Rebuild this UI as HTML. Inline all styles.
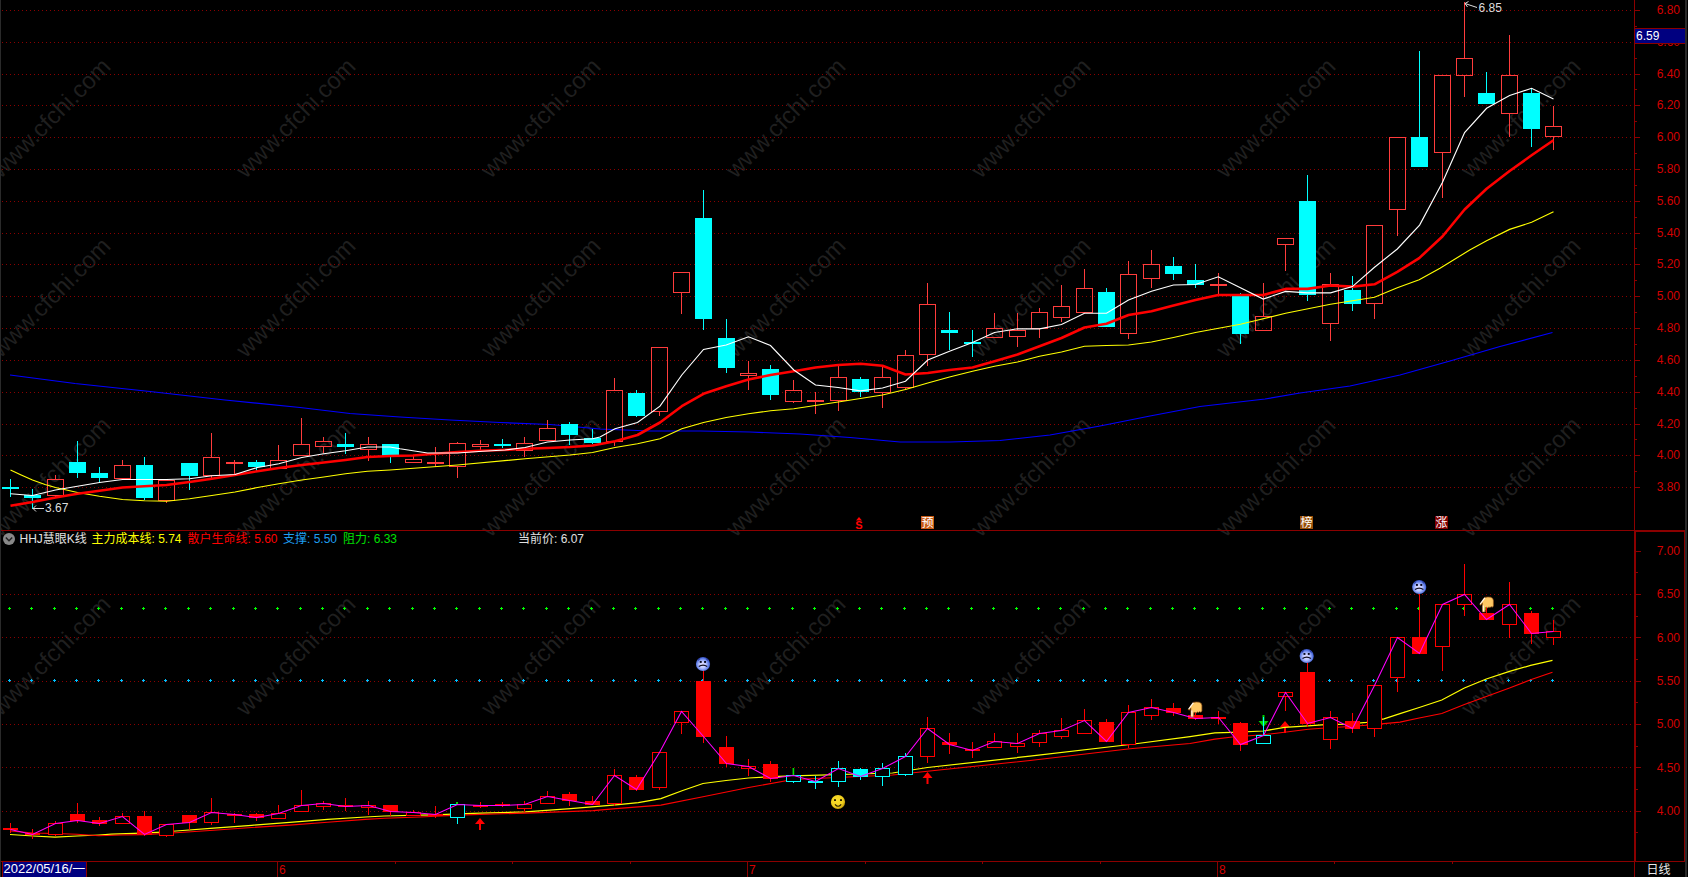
<!DOCTYPE html><html><head><meta charset="utf-8"><title>HHJ慧眼K线</title>
<style>html,body{margin:0;padding:0;background:#000;overflow:hidden}svg{display:block}text{font-family:"Liberation Sans","Noto Sans CJK SC",sans-serif;font-size:12px}</style></head><body>
<svg width="1688" height="877" viewBox="0 0 1688 877">
<rect width="1688" height="877" fill="#000"/>
<defs><radialGradient id="gs" cx="0.47" cy="0.55" r="0.55"><stop offset="0" stop-color="#f0e8ff"/><stop offset="0.45" stop-color="#b4c0ff"/><stop offset="0.85" stop-color="#5070e0"/><stop offset="1" stop-color="#3048b8"/></radialGradient><radialGradient id="gy" cx="0.42" cy="0.4" r="0.6"><stop offset="0" stop-color="#f8de2c"/><stop offset="0.7" stop-color="#f0d020"/><stop offset="1" stop-color="#c8a008"/></radialGradient></defs>
<g fill="#1f1f1f" text-anchor="middle">
<g><text style="font-size:23.8px" transform="translate(50.80000000000001,118) rotate(-45)" y="8">www.cfchi.com</text></g>
<g><text style="font-size:23.8px" transform="translate(295.8,118) rotate(-45)" y="8">www.cfchi.com</text></g>
<g><text style="font-size:23.8px" transform="translate(540.8,118) rotate(-45)" y="8">www.cfchi.com</text></g>
<g><text style="font-size:23.8px" transform="translate(785.8,118) rotate(-45)" y="8">www.cfchi.com</text></g>
<g><text style="font-size:23.8px" transform="translate(1030.8,118) rotate(-45)" y="8">www.cfchi.com</text></g>
<g><text style="font-size:23.8px" transform="translate(1275.8,118) rotate(-45)" y="8">www.cfchi.com</text></g>
<g><text style="font-size:23.8px" transform="translate(1520.8,118) rotate(-45)" y="8">www.cfchi.com</text></g>
<g><text style="font-size:23.8px" transform="translate(1765.8,118) rotate(-45)" y="8">www.cfchi.com</text></g>
<g><text style="font-size:23.8px" transform="translate(50.80000000000001,297.5) rotate(-45)" y="8">www.cfchi.com</text></g>
<g><text style="font-size:23.8px" transform="translate(295.8,297.5) rotate(-45)" y="8">www.cfchi.com</text></g>
<g><text style="font-size:23.8px" transform="translate(540.8,297.5) rotate(-45)" y="8">www.cfchi.com</text></g>
<g><text style="font-size:23.8px" transform="translate(785.8,297.5) rotate(-45)" y="8">www.cfchi.com</text></g>
<g><text style="font-size:23.8px" transform="translate(1030.8,297.5) rotate(-45)" y="8">www.cfchi.com</text></g>
<g><text style="font-size:23.8px" transform="translate(1275.8,297.5) rotate(-45)" y="8">www.cfchi.com</text></g>
<g><text style="font-size:23.8px" transform="translate(1520.8,297.5) rotate(-45)" y="8">www.cfchi.com</text></g>
<g><text style="font-size:23.8px" transform="translate(1765.8,297.5) rotate(-45)" y="8">www.cfchi.com</text></g>
<g><text style="font-size:23.8px" transform="translate(50.80000000000001,476.8) rotate(-45)" y="8">www.cfchi.com</text></g>
<g><text style="font-size:23.8px" transform="translate(295.8,476.8) rotate(-45)" y="8">www.cfchi.com</text></g>
<g><text style="font-size:23.8px" transform="translate(540.8,476.8) rotate(-45)" y="8">www.cfchi.com</text></g>
<g><text style="font-size:23.8px" transform="translate(785.8,476.8) rotate(-45)" y="8">www.cfchi.com</text></g>
<g><text style="font-size:23.8px" transform="translate(1030.8,476.8) rotate(-45)" y="8">www.cfchi.com</text></g>
<g><text style="font-size:23.8px" transform="translate(1275.8,476.8) rotate(-45)" y="8">www.cfchi.com</text></g>
<g><text style="font-size:23.8px" transform="translate(1520.8,476.8) rotate(-45)" y="8">www.cfchi.com</text></g>
<g><text style="font-size:23.8px" transform="translate(1765.8,476.8) rotate(-45)" y="8">www.cfchi.com</text></g>
<g><text style="font-size:23.8px" transform="translate(50.80000000000001,655.8) rotate(-45)" y="8">www.cfchi.com</text></g>
<g><text style="font-size:23.8px" transform="translate(295.8,655.8) rotate(-45)" y="8">www.cfchi.com</text></g>
<g><text style="font-size:23.8px" transform="translate(540.8,655.8) rotate(-45)" y="8">www.cfchi.com</text></g>
<g><text style="font-size:23.8px" transform="translate(785.8,655.8) rotate(-45)" y="8">www.cfchi.com</text></g>
<g><text style="font-size:23.8px" transform="translate(1030.8,655.8) rotate(-45)" y="8">www.cfchi.com</text></g>
<g><text style="font-size:23.8px" transform="translate(1275.8,655.8) rotate(-45)" y="8">www.cfchi.com</text></g>
<g><text style="font-size:23.8px" transform="translate(1520.8,655.8) rotate(-45)" y="8">www.cfchi.com</text></g>
<g><text style="font-size:23.8px" transform="translate(1765.8,655.8) rotate(-45)" y="8">www.cfchi.com</text></g>
</g>
<g stroke="#8b0000" stroke-width="1" stroke-dasharray="1 3" shape-rendering="crispEdges">
<line x1="2" x2="1632" y1="10.5" y2="10.5"/>
<line x1="2" x2="1632" y1="42.5" y2="42.5"/>
<line x1="2" x2="1632" y1="74.5" y2="74.5"/>
<line x1="2" x2="1632" y1="105.5" y2="105.5"/>
<line x1="2" x2="1632" y1="137.5" y2="137.5"/>
<line x1="2" x2="1632" y1="169.5" y2="169.5"/>
<line x1="2" x2="1632" y1="201.5" y2="201.5"/>
<line x1="2" x2="1632" y1="233.5" y2="233.5"/>
<line x1="2" x2="1632" y1="264.5" y2="264.5"/>
<line x1="2" x2="1632" y1="296.5" y2="296.5"/>
<line x1="2" x2="1632" y1="328.5" y2="328.5"/>
<line x1="2" x2="1632" y1="360.5" y2="360.5"/>
<line x1="2" x2="1632" y1="392.5" y2="392.5"/>
<line x1="2" x2="1632" y1="424.5" y2="424.5"/>
<line x1="2" x2="1632" y1="455.5" y2="455.5"/>
<line x1="2" x2="1632" y1="487.5" y2="487.5"/>
<line x1="2" x2="1632" y1="594.5" y2="594.5"/>
<line x1="2" x2="1632" y1="637.5" y2="637.5"/>
<line x1="2" x2="1632" y1="681.5" y2="681.5"/>
<line x1="2" x2="1632" y1="724.5" y2="724.5"/>
<line x1="2" x2="1632" y1="767.5" y2="767.5"/>
<line x1="2" x2="1632" y1="811.5" y2="811.5"/>
</g>
<g stroke="#8b0000" shape-rendering="crispEdges">
<line x1="1" x2="1685" y1="530.5" y2="530.5"/>
<line x1="1634" x2="1685" y1="531.5" y2="531.5"/>
<line x1="1634.5" x2="1634.5" y1="0" y2="530"/>
<line x1="1635" x2="1635" y1="531" y2="862" stroke-width="2"/>
<line x1="1634.5" x2="1634.5" y1="862" y2="877"/>
<line x1="1" x2="1685" y1="861.5" y2="861.5"/>
<line x1="1684.5" x2="1684.5" y1="531" y2="862"/>
<line x1="1635" x2="1640" y1="10.5" y2="10.5"/>
<line x1="1635" x2="1637" y1="26.5" y2="26.5"/>
<line x1="1635" x2="1640" y1="42.5" y2="42.5"/>
<line x1="1635" x2="1637" y1="58.5" y2="58.5"/>
<line x1="1635" x2="1640" y1="74.5" y2="74.5"/>
<line x1="1635" x2="1637" y1="89.5" y2="89.5"/>
<line x1="1635" x2="1640" y1="105.5" y2="105.5"/>
<line x1="1635" x2="1637" y1="121.5" y2="121.5"/>
<line x1="1635" x2="1640" y1="137.5" y2="137.5"/>
<line x1="1635" x2="1637" y1="153.5" y2="153.5"/>
<line x1="1635" x2="1640" y1="169.5" y2="169.5"/>
<line x1="1635" x2="1637" y1="185.5" y2="185.5"/>
<line x1="1635" x2="1640" y1="201.5" y2="201.5"/>
<line x1="1635" x2="1637" y1="217.5" y2="217.5"/>
<line x1="1635" x2="1640" y1="233.5" y2="233.5"/>
<line x1="1635" x2="1637" y1="248.5" y2="248.5"/>
<line x1="1635" x2="1640" y1="264.5" y2="264.5"/>
<line x1="1635" x2="1637" y1="280.5" y2="280.5"/>
<line x1="1635" x2="1640" y1="296.5" y2="296.5"/>
<line x1="1635" x2="1637" y1="312.5" y2="312.5"/>
<line x1="1635" x2="1640" y1="328.5" y2="328.5"/>
<line x1="1635" x2="1637" y1="344.5" y2="344.5"/>
<line x1="1635" x2="1640" y1="360.5" y2="360.5"/>
<line x1="1635" x2="1637" y1="376.5" y2="376.5"/>
<line x1="1635" x2="1640" y1="392.5" y2="392.5"/>
<line x1="1635" x2="1637" y1="408.5" y2="408.5"/>
<line x1="1635" x2="1640" y1="424.5" y2="424.5"/>
<line x1="1635" x2="1637" y1="439.5" y2="439.5"/>
<line x1="1635" x2="1640" y1="455.5" y2="455.5"/>
<line x1="1635" x2="1637" y1="471.5" y2="471.5"/>
<line x1="1635" x2="1640" y1="487.5" y2="487.5"/>
<line x1="1636" x2="1641" y1="551.5" y2="551.5"/>
<line x1="1636" x2="1638" y1="572.5" y2="572.5"/>
<line x1="1636" x2="1641" y1="594.5" y2="594.5"/>
<line x1="1636" x2="1638" y1="616.5" y2="616.5"/>
<line x1="1636" x2="1641" y1="637.5" y2="637.5"/>
<line x1="1636" x2="1638" y1="659.5" y2="659.5"/>
<line x1="1636" x2="1641" y1="681.5" y2="681.5"/>
<line x1="1636" x2="1638" y1="702.5" y2="702.5"/>
<line x1="1636" x2="1641" y1="724.5" y2="724.5"/>
<line x1="1636" x2="1638" y1="746.5" y2="746.5"/>
<line x1="1636" x2="1641" y1="767.5" y2="767.5"/>
<line x1="1636" x2="1638" y1="789.5" y2="789.5"/>
<line x1="1636" x2="1641" y1="811.5" y2="811.5"/>
<line x1="1636" x2="1638" y1="832.5" y2="832.5"/>
<line x1="277.5" x2="277.5" y1="862" y2="877"/>
<line x1="747.5" x2="747.5" y1="862" y2="877"/>
<line x1="1217.5" x2="1217.5" y1="862" y2="877"/>
<line x1="395.5" x2="395.5" y1="862" y2="864"/>
<line x1="512.5" x2="512.5" y1="862" y2="864"/>
<line x1="630.5" x2="630.5" y1="862" y2="864"/>
<line x1="865.5" x2="865.5" y1="862" y2="864"/>
<line x1="982.5" x2="982.5" y1="862" y2="864"/>
<line x1="1100.5" x2="1100.5" y1="862" y2="864"/>
<line x1="1334.5" x2="1334.5" y1="862" y2="864"/>
<line x1="1452.5" x2="1452.5" y1="862" y2="864"/>
</g>
<rect x="0" y="0" width="1" height="877" fill="#2a2a2a"/>
<rect x="1685" y="0" width="2" height="877" fill="#2a2a2a"/>
<g fill="#d40000" text-anchor="end">
<text x="1680" y="13.9">6.80</text>
<text x="1680" y="45.9">6.60</text>
<text x="1680" y="77.9">6.40</text>
<text x="1680" y="108.9">6.20</text>
<text x="1680" y="140.9">6.00</text>
<text x="1680" y="172.9">5.80</text>
<text x="1680" y="204.9">5.60</text>
<text x="1680" y="236.9">5.40</text>
<text x="1680" y="267.9">5.20</text>
<text x="1680" y="299.9">5.00</text>
<text x="1680" y="331.9">4.80</text>
<text x="1680" y="363.9">4.60</text>
<text x="1680" y="395.9">4.40</text>
<text x="1680" y="427.9">4.20</text>
<text x="1680" y="458.9">4.00</text>
<text x="1680" y="490.9">3.80</text>
<text x="1680" y="554.9">7.00</text>
<text x="1680" y="598.2">6.50</text>
<text x="1680" y="641.6">6.00</text>
<text x="1680" y="684.9">5.50</text>
<text x="1680" y="728.2">5.00</text>
<text x="1680" y="771.6">4.50</text>
<text x="1680" y="814.9">4.00</text>
</g>
<g fill="#d40000"><text x="279" y="874">6</text><text x="749" y="874">7</text><text x="1219" y="874">8</text></g>
<rect x="1635" y="28" width="50" height="16" fill="#000080"/><line x1="1635" x2="1685" y1="28.5" y2="28.5" stroke="#8b0000"/><line x1="1635" x2="1685" y1="43.5" y2="43.5" stroke="#8b0000"/>
<text x="1636" y="39.8" fill="#fff">6.59</text>
<rect x="3" y="862" width="83" height="15" fill="#000080"/><line x1="86.5" x2="86.5" y1="862" y2="877" stroke="#8b0000"/><line x1="2.5" x2="2.5" y1="862" y2="877" stroke="#8b0000"/>
<text x="3.6" y="873" fill="#fff" style="font-size:13px">2022/05/16/一</text>
<text x="1646.5" y="874.3" fill="#e8e8e8">日线</text>
<polyline fill="none" stroke="#0000ff" stroke-width="1.15" points="10,375 75,383.5 150,391.5 225,400 300,407.5 350,413.5 400,417 450,420 500,422.5 550,424.5 600,429 650,431 700,431 750,432 800,434 850,437.5 900,442 950,442 1000,440.5 1050,435 1100,426 1150,416 1200,406.5 1265,399 1300,393 1350,386 1400,375 1450,361 1500,346.5 1552.5,332.5"/>
<g shape-rendering="crispEdges">
<line x1="10.5" x2="10.5" y1="479" y2="497" stroke="#00ffff"/>
<rect x="2.0" y="487" width="17" height="2" fill="#00ffff"/>
<line x1="32.5" x2="32.5" y1="489" y2="509" stroke="#00ffff"/>
<rect x="24.0" y="495" width="17" height="3" fill="#00ffff"/>
<line x1="55.5" x2="55.5" y1="475" y2="479" stroke="#ff3c3c"/>
<line x1="55.5" x2="55.5" y1="496" y2="498" stroke="#ff3c3c"/>
<rect x="47.5" y="479.5" width="16" height="16" fill="none" stroke="#ff3c3c"/>
<line x1="77.5" x2="77.5" y1="441" y2="478" stroke="#00ffff"/>
<rect x="69.0" y="462" width="17" height="11" fill="#00ffff"/>
<line x1="99.5" x2="99.5" y1="467" y2="483" stroke="#00ffff"/>
<rect x="91.0" y="473" width="17" height="5" fill="#00ffff"/>
<line x1="122.5" x2="122.5" y1="460" y2="465" stroke="#ff3c3c"/>
<line x1="122.5" x2="122.5" y1="479" y2="479" stroke="#ff3c3c"/>
<rect x="114.5" y="465.5" width="16" height="13" fill="none" stroke="#ff3c3c"/>
<line x1="144.5" x2="144.5" y1="457" y2="500" stroke="#00ffff"/>
<rect x="136.0" y="465" width="17" height="33" fill="#00ffff"/>
<line x1="166.5" x2="166.5" y1="480" y2="480" stroke="#ff3c3c"/>
<line x1="166.5" x2="166.5" y1="501" y2="503" stroke="#ff3c3c"/>
<rect x="158.5" y="480.5" width="16" height="20" fill="none" stroke="#ff3c3c"/>
<line x1="189.5" x2="189.5" y1="463" y2="490" stroke="#00ffff"/>
<rect x="181.0" y="463" width="17" height="13" fill="#00ffff"/>
<line x1="211.5" x2="211.5" y1="433" y2="457" stroke="#ff3c3c"/>
<line x1="211.5" x2="211.5" y1="476" y2="480" stroke="#ff3c3c"/>
<rect x="203.5" y="457.5" width="16" height="18" fill="none" stroke="#ff3c3c"/>
<line x1="234.5" x2="234.5" y1="460" y2="476" stroke="#ff3c3c"/>
<rect x="226.0" y="462" width="17" height="2" fill="#ff3c3c"/>
<line x1="256.5" x2="256.5" y1="460" y2="472" stroke="#00ffff"/>
<rect x="248.0" y="462" width="17" height="5" fill="#00ffff"/>
<line x1="278.5" x2="278.5" y1="445" y2="460" stroke="#ff3c3c"/>
<line x1="278.5" x2="278.5" y1="469" y2="469" stroke="#ff3c3c"/>
<rect x="270.5" y="460.5" width="16" height="8" fill="none" stroke="#ff3c3c"/>
<line x1="301.5" x2="301.5" y1="418" y2="444" stroke="#ff3c3c"/>
<line x1="301.5" x2="301.5" y1="456" y2="456" stroke="#ff3c3c"/>
<rect x="293.5" y="444.5" width="16" height="11" fill="none" stroke="#ff3c3c"/>
<line x1="323.5" x2="323.5" y1="437" y2="441" stroke="#ff3c3c"/>
<line x1="323.5" x2="323.5" y1="447" y2="453" stroke="#ff3c3c"/>
<rect x="315.5" y="441.5" width="16" height="5" fill="none" stroke="#ff3c3c"/>
<line x1="345.5" x2="345.5" y1="433" y2="454" stroke="#00ffff"/>
<rect x="337.0" y="444" width="17" height="3" fill="#00ffff"/>
<line x1="368.5" x2="368.5" y1="437" y2="444" stroke="#ff3c3c"/>
<line x1="368.5" x2="368.5" y1="450" y2="461" stroke="#ff3c3c"/>
<rect x="360.5" y="444.5" width="16" height="5" fill="none" stroke="#ff3c3c"/>
<line x1="390.5" x2="390.5" y1="444" y2="463" stroke="#00ffff"/>
<rect x="382.0" y="444" width="17" height="12" fill="#00ffff"/>
<line x1="413.5" x2="413.5" y1="455" y2="459" stroke="#ff3c3c"/>
<line x1="413.5" x2="413.5" y1="463" y2="463" stroke="#ff3c3c"/>
<rect x="405.5" y="459.5" width="16" height="3" fill="none" stroke="#ff3c3c"/>
<line x1="435.5" x2="435.5" y1="447" y2="467" stroke="#ff3c3c"/>
<rect x="427.0" y="462" width="17" height="2" fill="#ff3c3c"/>
<line x1="457.5" x2="457.5" y1="442" y2="443" stroke="#ff3c3c"/>
<line x1="457.5" x2="457.5" y1="467" y2="478" stroke="#ff3c3c"/>
<rect x="449.5" y="443.5" width="16" height="23" fill="none" stroke="#ff3c3c"/>
<line x1="480.5" x2="480.5" y1="440" y2="444" stroke="#ff3c3c"/>
<line x1="480.5" x2="480.5" y1="447" y2="450" stroke="#ff3c3c"/>
<rect x="472.5" y="444.5" width="16" height="2" fill="none" stroke="#ff3c3c"/>
<line x1="502.5" x2="502.5" y1="439" y2="448" stroke="#00ffff"/>
<rect x="494.0" y="444" width="17" height="2" fill="#00ffff"/>
<line x1="524.5" x2="524.5" y1="437" y2="443" stroke="#ff3c3c"/>
<line x1="524.5" x2="524.5" y1="451" y2="457" stroke="#ff3c3c"/>
<rect x="516.5" y="443.5" width="16" height="7" fill="none" stroke="#ff3c3c"/>
<line x1="547.5" x2="547.5" y1="420" y2="428" stroke="#ff3c3c"/>
<line x1="547.5" x2="547.5" y1="441" y2="441" stroke="#ff3c3c"/>
<rect x="539.5" y="428.5" width="16" height="12" fill="none" stroke="#ff3c3c"/>
<line x1="569.5" x2="569.5" y1="422" y2="445" stroke="#00ffff"/>
<rect x="561.0" y="424" width="17" height="11" fill="#00ffff"/>
<line x1="592.5" x2="592.5" y1="429" y2="444" stroke="#00ffff"/>
<rect x="584.0" y="438" width="17" height="5" fill="#00ffff"/>
<line x1="614.5" x2="614.5" y1="378" y2="390" stroke="#ff3c3c"/>
<line x1="614.5" x2="614.5" y1="442" y2="446" stroke="#ff3c3c"/>
<rect x="606.5" y="390.5" width="16" height="51" fill="none" stroke="#ff3c3c"/>
<line x1="636.5" x2="636.5" y1="390" y2="417" stroke="#00ffff"/>
<rect x="628.0" y="393" width="17" height="23" fill="#00ffff"/>
<line x1="659.5" x2="659.5" y1="347" y2="347" stroke="#ff3c3c"/>
<line x1="659.5" x2="659.5" y1="412" y2="416" stroke="#ff3c3c"/>
<rect x="651.5" y="347.5" width="16" height="64" fill="none" stroke="#ff3c3c"/>
<line x1="681.5" x2="681.5" y1="272" y2="272" stroke="#ff3c3c"/>
<line x1="681.5" x2="681.5" y1="293" y2="314" stroke="#ff3c3c"/>
<rect x="673.5" y="272.5" width="16" height="20" fill="none" stroke="#ff3c3c"/>
<line x1="703.5" x2="703.5" y1="190" y2="330" stroke="#00ffff"/>
<rect x="695.0" y="218" width="17" height="101" fill="#00ffff"/>
<line x1="726.5" x2="726.5" y1="319" y2="373" stroke="#00ffff"/>
<rect x="718.0" y="338" width="17" height="30" fill="#00ffff"/>
<line x1="748.5" x2="748.5" y1="361" y2="373" stroke="#ff3c3c"/>
<line x1="748.5" x2="748.5" y1="376" y2="390" stroke="#ff3c3c"/>
<rect x="740.5" y="373.5" width="16" height="2" fill="none" stroke="#ff3c3c"/>
<line x1="770.5" x2="770.5" y1="365" y2="400" stroke="#00ffff"/>
<rect x="762.0" y="369" width="17" height="26" fill="#00ffff"/>
<line x1="793.5" x2="793.5" y1="380" y2="390" stroke="#ff3c3c"/>
<line x1="793.5" x2="793.5" y1="402" y2="403" stroke="#ff3c3c"/>
<rect x="785.5" y="390.5" width="16" height="11" fill="none" stroke="#ff3c3c"/>
<line x1="815.5" x2="815.5" y1="392" y2="414" stroke="#ff3c3c"/>
<rect x="807.0" y="400" width="17" height="2" fill="#ff3c3c"/>
<line x1="838.5" x2="838.5" y1="364" y2="377" stroke="#ff3c3c"/>
<line x1="838.5" x2="838.5" y1="401" y2="411" stroke="#ff3c3c"/>
<rect x="830.5" y="377.5" width="16" height="23" fill="none" stroke="#ff3c3c"/>
<line x1="860.5" x2="860.5" y1="377" y2="397" stroke="#00ffff"/>
<rect x="852.0" y="379" width="17" height="13" fill="#00ffff"/>
<line x1="882.5" x2="882.5" y1="367" y2="377" stroke="#ff3c3c"/>
<line x1="882.5" x2="882.5" y1="393" y2="408" stroke="#ff3c3c"/>
<rect x="874.5" y="377.5" width="16" height="15" fill="none" stroke="#ff3c3c"/>
<line x1="905.5" x2="905.5" y1="350" y2="355" stroke="#ff3c3c"/>
<line x1="905.5" x2="905.5" y1="388" y2="390" stroke="#ff3c3c"/>
<rect x="897.5" y="355.5" width="16" height="32" fill="none" stroke="#ff3c3c"/>
<line x1="927.5" x2="927.5" y1="283" y2="304" stroke="#ff3c3c"/>
<line x1="927.5" x2="927.5" y1="355" y2="366" stroke="#ff3c3c"/>
<rect x="919.5" y="304.5" width="16" height="50" fill="none" stroke="#ff3c3c"/>
<line x1="949.5" x2="949.5" y1="312" y2="350" stroke="#00ffff"/>
<rect x="941.0" y="330" width="17" height="3" fill="#00ffff"/>
<line x1="972.5" x2="972.5" y1="330" y2="357" stroke="#00ffff"/>
<rect x="964.0" y="342" width="17" height="2" fill="#00ffff"/>
<line x1="994.5" x2="994.5" y1="313" y2="328" stroke="#ff3c3c"/>
<line x1="994.5" x2="994.5" y1="338" y2="338" stroke="#ff3c3c"/>
<rect x="986.5" y="328.5" width="16" height="9" fill="none" stroke="#ff3c3c"/>
<line x1="1017.5" x2="1017.5" y1="313" y2="330" stroke="#ff3c3c"/>
<line x1="1017.5" x2="1017.5" y1="337" y2="347" stroke="#ff3c3c"/>
<rect x="1009.5" y="330.5" width="16" height="6" fill="none" stroke="#ff3c3c"/>
<line x1="1039.5" x2="1039.5" y1="308" y2="312" stroke="#ff3c3c"/>
<line x1="1039.5" x2="1039.5" y1="329" y2="338" stroke="#ff3c3c"/>
<rect x="1031.5" y="312.5" width="16" height="16" fill="none" stroke="#ff3c3c"/>
<line x1="1061.5" x2="1061.5" y1="285" y2="306" stroke="#ff3c3c"/>
<line x1="1061.5" x2="1061.5" y1="318" y2="322" stroke="#ff3c3c"/>
<rect x="1053.5" y="306.5" width="16" height="11" fill="none" stroke="#ff3c3c"/>
<line x1="1084.5" x2="1084.5" y1="269" y2="288" stroke="#ff3c3c"/>
<line x1="1084.5" x2="1084.5" y1="313" y2="313" stroke="#ff3c3c"/>
<rect x="1076.5" y="288.5" width="16" height="24" fill="none" stroke="#ff3c3c"/>
<line x1="1106.5" x2="1106.5" y1="288" y2="327" stroke="#00ffff"/>
<rect x="1098.0" y="292" width="17" height="35" fill="#00ffff"/>
<line x1="1128.5" x2="1128.5" y1="261" y2="274" stroke="#ff3c3c"/>
<line x1="1128.5" x2="1128.5" y1="334" y2="339" stroke="#ff3c3c"/>
<rect x="1120.5" y="274.5" width="16" height="59" fill="none" stroke="#ff3c3c"/>
<line x1="1151.5" x2="1151.5" y1="250" y2="264" stroke="#ff3c3c"/>
<line x1="1151.5" x2="1151.5" y1="279" y2="288" stroke="#ff3c3c"/>
<rect x="1143.5" y="264.5" width="16" height="14" fill="none" stroke="#ff3c3c"/>
<line x1="1173.5" x2="1173.5" y1="257" y2="280" stroke="#00ffff"/>
<rect x="1165.0" y="266" width="17" height="8" fill="#00ffff"/>
<line x1="1195.5" x2="1195.5" y1="264" y2="288" stroke="#00ffff"/>
<rect x="1187.0" y="280" width="17" height="5" fill="#00ffff"/>
<line x1="1218.5" x2="1218.5" y1="273" y2="294" stroke="#ff3c3c"/>
<rect x="1210.0" y="284" width="17" height="2" fill="#ff3c3c"/>
<line x1="1240.5" x2="1240.5" y1="293" y2="344" stroke="#00ffff"/>
<rect x="1232.0" y="295" width="17" height="39" fill="#00ffff"/>
<line x1="1263.5" x2="1263.5" y1="283" y2="316" stroke="#ff3c3c"/>
<line x1="1263.5" x2="1263.5" y1="331" y2="331" stroke="#ff3c3c"/>
<rect x="1255.5" y="316.5" width="16" height="14" fill="none" stroke="#ff3c3c"/>
<line x1="1285.5" x2="1285.5" y1="238" y2="238" stroke="#ff3c3c"/>
<line x1="1285.5" x2="1285.5" y1="245" y2="271" stroke="#ff3c3c"/>
<rect x="1277.5" y="238.5" width="16" height="6" fill="none" stroke="#ff3c3c"/>
<line x1="1307.5" x2="1307.5" y1="175" y2="301" stroke="#00ffff"/>
<rect x="1299.0" y="201" width="17" height="94" fill="#00ffff"/>
<line x1="1330.5" x2="1330.5" y1="273" y2="284" stroke="#ff3c3c"/>
<line x1="1330.5" x2="1330.5" y1="324" y2="341" stroke="#ff3c3c"/>
<rect x="1322.5" y="284.5" width="16" height="39" fill="none" stroke="#ff3c3c"/>
<line x1="1352.5" x2="1352.5" y1="276" y2="311" stroke="#00ffff"/>
<rect x="1344.0" y="290" width="17" height="14" fill="#00ffff"/>
<line x1="1374.5" x2="1374.5" y1="225" y2="225" stroke="#ff3c3c"/>
<line x1="1374.5" x2="1374.5" y1="304" y2="319" stroke="#ff3c3c"/>
<rect x="1366.5" y="225.5" width="16" height="78" fill="none" stroke="#ff3c3c"/>
<line x1="1397.5" x2="1397.5" y1="137" y2="137" stroke="#ff3c3c"/>
<line x1="1397.5" x2="1397.5" y1="210" y2="236" stroke="#ff3c3c"/>
<rect x="1389.5" y="137.5" width="16" height="72" fill="none" stroke="#ff3c3c"/>
<line x1="1419.5" x2="1419.5" y1="51" y2="167" stroke="#00ffff"/>
<rect x="1411.0" y="137" width="17" height="30" fill="#00ffff"/>
<line x1="1442.5" x2="1442.5" y1="75" y2="75" stroke="#ff3c3c"/>
<line x1="1442.5" x2="1442.5" y1="153" y2="198" stroke="#ff3c3c"/>
<rect x="1434.5" y="75.5" width="16" height="77" fill="none" stroke="#ff3c3c"/>
<line x1="1464.5" x2="1464.5" y1="2" y2="58" stroke="#ff3c3c"/>
<line x1="1464.5" x2="1464.5" y1="76" y2="97" stroke="#ff3c3c"/>
<rect x="1456.5" y="58.5" width="16" height="17" fill="none" stroke="#ff3c3c"/>
<line x1="1486.5" x2="1486.5" y1="72" y2="104" stroke="#00ffff"/>
<rect x="1478.0" y="93" width="17" height="11" fill="#00ffff"/>
<line x1="1509.5" x2="1509.5" y1="35" y2="75" stroke="#ff3c3c"/>
<line x1="1509.5" x2="1509.5" y1="114" y2="137" stroke="#ff3c3c"/>
<rect x="1501.5" y="75.5" width="16" height="38" fill="none" stroke="#ff3c3c"/>
<line x1="1531.5" x2="1531.5" y1="88" y2="147" stroke="#00ffff"/>
<rect x="1523.0" y="93" width="17" height="36" fill="#00ffff"/>
<line x1="1553.5" x2="1553.5" y1="106" y2="126" stroke="#ff3c3c"/>
<line x1="1553.5" x2="1553.5" y1="137" y2="150" stroke="#ff3c3c"/>
<rect x="1545.5" y="126.5" width="16" height="10" fill="none" stroke="#ff3c3c"/>
</g>
<polyline fill="none" stroke="#ffff00" stroke-width="1.15" points="10.5,470 21.2,475 32.5,480 45,484.5 55.5,487.5 77.5,492.5 99.5,496.2 122.5,499.5 144.5,500.8 166.5,501.2 189.5,498.8 211.8,495.5 235,492 257.5,487.5 278.8,483.8 301.8,480 323.8,477 345.5,473.8 367.5,471.2 390,470 457.5,465 525,458.8 570,455 592.5,452.5 615,447.5 637.5,443.8 660,438.8 681.8,428.8 703.5,422.5 726.2,417.5 748.5,413.8 770.5,410.8 793.8,408.8 838.2,402 882.5,395 905.5,389.5 927.8,383 949.5,377 972.5,371.2 994.5,366.2 1017.5,362 1039.5,356.2 1061.5,352 1084.5,346.2 1106.5,345.5 1128.5,345 1151.5,342 1173.5,337.5 1195.5,332.5 1240.4,324.2 1285.6,313.3 1330.5,304.2 1374.5,297.3 1397.3,287.7 1419.2,279.8 1440,268.3 1469.7,250 1486.6,240.8 1509.6,229.4 1531.6,222.3 1553.5,211.7"/>
<polyline fill="none" stroke="#ff0000" stroke-width="2.6" stroke-linejoin="round" points="10.5,505.8 32.5,502 55.5,497.5 77.5,493.8 99.5,490.8 122.5,487.5 144.5,486.2 166.5,485 189.5,482 211.8,478.8 235,475 257.5,471.2 278.8,468 301.8,465 323.8,462.5 345.5,460 367.5,457 390,456 413,455.5 435,453.8 457.5,452 480,450.8 502.5,450 525,448.8 547.5,448 570,447 592.5,445.5 615,441.2 637.5,435 660,422.5 681.8,406.2 703.5,393.8 726.2,386.2 748.5,379.5 770.5,375 793.8,371.2 815.5,367.5 838.2,365 860.5,363.8 882.5,365.8 905.5,374.5 927.8,373 949.5,370 972.5,367.5 994.5,361.2 1017.5,354.5 1039.5,346.2 1061.5,338 1084.5,327.5 1106.5,323.8 1128.5,315 1151.5,311.2 1173.5,305.5 1195.5,300 1218.3,295 1240.4,295 1263.2,295 1285.6,288.9 1307.5,288.9 1330.5,285.5 1352.4,286.6 1374.5,284.3 1397.3,271.8 1419.2,258.1 1442.4,236.5 1464.6,209.5 1486.6,188.7 1509.6,171 1531.6,155.3 1553.5,140.2"/>
<polyline fill="none" stroke="#ffffff" stroke-width="1.15" points="10.5,493.8 32.5,495.5 55.5,490 77.5,486.2 99.5,482.5 122.5,479.5 144.5,479.5 166.5,479.5 189.5,478.8 211.8,475.8 235,474.5 257.5,467.5 278.8,463.8 301.8,457.5 323.8,453.8 345.5,450.8 367.5,447 390,447 400,448.8 427.5,453 457.5,453 482.5,451.2 505,450 525,447.5 547.5,442 570,440 592.5,438.8 600,437 615,428.8 637.5,422.5 660,406.2 681.8,375 703.5,349.5 726.2,345 748.5,336.8 770.5,345.5 793.8,370 815.5,385 838.2,387.5 860.5,390.8 882.5,388 905.5,381.2 927.8,360 949.5,351.2 972.5,342.5 994.5,332.5 1017.5,328.8 1039.5,328.8 1061.5,324.5 1084.5,313.2 1106.5,313.2 1128.5,300 1151.5,291.2 1173.5,285 1195.5,284.5 1218.3,276.8 1240.4,287.7 1263.2,299.1 1285.6,291.4 1307.5,292.8 1330.5,292.8 1352.4,286.6 1374.5,267.2 1397.3,249 1419.6,225.1 1442.4,182.4 1464.6,132.5 1486.6,108.3 1509.6,95.5 1531.6,88.3 1553.5,98.9"/>
<g stroke="#ddd" fill="none" stroke-width="1"><path d="M33 508.5H44M36 505.5L33 508.5L36 511.5"/><path d="M1465 3.5L1477 7.5M1468.5 1.5L1465 3.5L1467.5 7"/></g>
<text x="45" y="512" fill="#ddd">3.67</text><text x="1478.5" y="12" fill="#ddd">6.85</text>
<g><path d="M856 520.5h6l-3-3.5z" fill="#ff0000"/><text x="855.3" y="528.7" fill="#ff0000" style="font-size:11px;font-weight:bold">S</text></g>
<rect x="921" y="516" width="13" height="13" fill="#c85a14"/><text x="921.5" y="527" fill="#fff">预</text>
<rect x="1300" y="516" width="13" height="13" fill="#985008"/><text x="1300.5" y="527" fill="#fff">榜</text>
<rect x="1435" y="516" width="13" height="13" fill="#820000"/><text x="1435.5" y="527" fill="#fff">涨</text>
<circle cx="9" cy="539" r="6" fill="#888"/><path d="M5.8 537.5L9 540.8L12.2 537.5" stroke="#222" stroke-width="1.4" fill="none"/>
<text y="543" xml:space="preserve"><tspan x="19.5" fill="#e0e0e0">HHJ慧眼K线</tspan><tspan x="91.5" fill="#ffff00">主力成本线: 5.74</tspan><tspan x="187.5" fill="#ff0000">散户生命线: 5.60</tspan><tspan x="283" fill="#1e9ef0">支撑: 5.50</tspan><tspan x="343" fill="#00e000">阻力: 6.33</tspan><tspan x="518" fill="#e0e0e0">当前价: 6.07</tspan></text>
<g shape-rendering="crispEdges">
<path d="M8 608h3v1h-3zM9 607h1v3h-1z" fill="#00ff00"/>
<path d="M8 680h3v1h-3zM9 679h1v3h-1z" fill="#00c0ff"/>
<path d="M30 608h3v1h-3zM31 607h1v3h-1z" fill="#00ff00"/>
<path d="M30 680h3v1h-3zM31 679h1v3h-1z" fill="#00c0ff"/>
<path d="M53 608h3v1h-3zM54 607h1v3h-1z" fill="#00ff00"/>
<path d="M53 680h3v1h-3zM54 679h1v3h-1z" fill="#00c0ff"/>
<path d="M75 608h3v1h-3zM76 607h1v3h-1z" fill="#00ff00"/>
<path d="M75 680h3v1h-3zM76 679h1v3h-1z" fill="#00c0ff"/>
<path d="M97 608h3v1h-3zM98 607h1v3h-1z" fill="#00ff00"/>
<path d="M97 680h3v1h-3zM98 679h1v3h-1z" fill="#00c0ff"/>
<path d="M120 608h3v1h-3zM121 607h1v3h-1z" fill="#00ff00"/>
<path d="M120 680h3v1h-3zM121 679h1v3h-1z" fill="#00c0ff"/>
<path d="M142 608h3v1h-3zM143 607h1v3h-1z" fill="#00ff00"/>
<path d="M142 680h3v1h-3zM143 679h1v3h-1z" fill="#00c0ff"/>
<path d="M164 608h3v1h-3zM165 607h1v3h-1z" fill="#00ff00"/>
<path d="M164 680h3v1h-3zM165 679h1v3h-1z" fill="#00c0ff"/>
<path d="M187 608h3v1h-3zM188 607h1v3h-1z" fill="#00ff00"/>
<path d="M187 680h3v1h-3zM188 679h1v3h-1z" fill="#00c0ff"/>
<path d="M209 608h3v1h-3zM210 607h1v3h-1z" fill="#00ff00"/>
<path d="M209 680h3v1h-3zM210 679h1v3h-1z" fill="#00c0ff"/>
<path d="M232 608h3v1h-3zM233 607h1v3h-1z" fill="#00ff00"/>
<path d="M232 680h3v1h-3zM233 679h1v3h-1z" fill="#00c0ff"/>
<path d="M254 608h3v1h-3zM255 607h1v3h-1z" fill="#00ff00"/>
<path d="M254 680h3v1h-3zM255 679h1v3h-1z" fill="#00c0ff"/>
<path d="M276 608h3v1h-3zM277 607h1v3h-1z" fill="#00ff00"/>
<path d="M276 680h3v1h-3zM277 679h1v3h-1z" fill="#00c0ff"/>
<path d="M299 608h3v1h-3zM300 607h1v3h-1z" fill="#00ff00"/>
<path d="M299 680h3v1h-3zM300 679h1v3h-1z" fill="#00c0ff"/>
<path d="M321 608h3v1h-3zM322 607h1v3h-1z" fill="#00ff00"/>
<path d="M321 680h3v1h-3zM322 679h1v3h-1z" fill="#00c0ff"/>
<path d="M343 608h3v1h-3zM344 607h1v3h-1z" fill="#00ff00"/>
<path d="M343 680h3v1h-3zM344 679h1v3h-1z" fill="#00c0ff"/>
<path d="M366 608h3v1h-3zM367 607h1v3h-1z" fill="#00ff00"/>
<path d="M366 680h3v1h-3zM367 679h1v3h-1z" fill="#00c0ff"/>
<path d="M388 608h3v1h-3zM389 607h1v3h-1z" fill="#00ff00"/>
<path d="M388 680h3v1h-3zM389 679h1v3h-1z" fill="#00c0ff"/>
<path d="M411 608h3v1h-3zM412 607h1v3h-1z" fill="#00ff00"/>
<path d="M411 680h3v1h-3zM412 679h1v3h-1z" fill="#00c0ff"/>
<path d="M433 608h3v1h-3zM434 607h1v3h-1z" fill="#00ff00"/>
<path d="M433 680h3v1h-3zM434 679h1v3h-1z" fill="#00c0ff"/>
<path d="M455 608h3v1h-3zM456 607h1v3h-1z" fill="#00ff00"/>
<path d="M455 680h3v1h-3zM456 679h1v3h-1z" fill="#00c0ff"/>
<path d="M478 608h3v1h-3zM479 607h1v3h-1z" fill="#00ff00"/>
<path d="M478 680h3v1h-3zM479 679h1v3h-1z" fill="#00c0ff"/>
<path d="M500 608h3v1h-3zM501 607h1v3h-1z" fill="#00ff00"/>
<path d="M500 680h3v1h-3zM501 679h1v3h-1z" fill="#00c0ff"/>
<path d="M522 608h3v1h-3zM523 607h1v3h-1z" fill="#00ff00"/>
<path d="M522 680h3v1h-3zM523 679h1v3h-1z" fill="#00c0ff"/>
<path d="M545 608h3v1h-3zM546 607h1v3h-1z" fill="#00ff00"/>
<path d="M545 680h3v1h-3zM546 679h1v3h-1z" fill="#00c0ff"/>
<path d="M567 608h3v1h-3zM568 607h1v3h-1z" fill="#00ff00"/>
<path d="M567 680h3v1h-3zM568 679h1v3h-1z" fill="#00c0ff"/>
<path d="M590 608h3v1h-3zM591 607h1v3h-1z" fill="#00ff00"/>
<path d="M590 680h3v1h-3zM591 679h1v3h-1z" fill="#00c0ff"/>
<path d="M612 608h3v1h-3zM613 607h1v3h-1z" fill="#00ff00"/>
<path d="M612 680h3v1h-3zM613 679h1v3h-1z" fill="#00c0ff"/>
<path d="M634 608h3v1h-3zM635 607h1v3h-1z" fill="#00ff00"/>
<path d="M634 680h3v1h-3zM635 679h1v3h-1z" fill="#00c0ff"/>
<path d="M657 608h3v1h-3zM658 607h1v3h-1z" fill="#00ff00"/>
<path d="M657 680h3v1h-3zM658 679h1v3h-1z" fill="#00c0ff"/>
<path d="M679 608h3v1h-3zM680 607h1v3h-1z" fill="#00ff00"/>
<path d="M679 680h3v1h-3zM680 679h1v3h-1z" fill="#00c0ff"/>
<path d="M701 608h3v1h-3zM702 607h1v3h-1z" fill="#00ff00"/>
<path d="M701 680h3v1h-3zM702 679h1v3h-1z" fill="#00c0ff"/>
<path d="M724 608h3v1h-3zM725 607h1v3h-1z" fill="#00ff00"/>
<path d="M724 680h3v1h-3zM725 679h1v3h-1z" fill="#00c0ff"/>
<path d="M746 608h3v1h-3zM747 607h1v3h-1z" fill="#00ff00"/>
<path d="M746 680h3v1h-3zM747 679h1v3h-1z" fill="#00c0ff"/>
<path d="M768 608h3v1h-3zM769 607h1v3h-1z" fill="#00ff00"/>
<path d="M768 680h3v1h-3zM769 679h1v3h-1z" fill="#00c0ff"/>
<path d="M791 608h3v1h-3zM792 607h1v3h-1z" fill="#00ff00"/>
<path d="M791 680h3v1h-3zM792 679h1v3h-1z" fill="#00c0ff"/>
<path d="M813 608h3v1h-3zM814 607h1v3h-1z" fill="#00ff00"/>
<path d="M813 680h3v1h-3zM814 679h1v3h-1z" fill="#00c0ff"/>
<path d="M836 608h3v1h-3zM837 607h1v3h-1z" fill="#00ff00"/>
<path d="M836 680h3v1h-3zM837 679h1v3h-1z" fill="#00c0ff"/>
<path d="M858 608h3v1h-3zM859 607h1v3h-1z" fill="#00ff00"/>
<path d="M858 680h3v1h-3zM859 679h1v3h-1z" fill="#00c0ff"/>
<path d="M880 608h3v1h-3zM881 607h1v3h-1z" fill="#00ff00"/>
<path d="M880 680h3v1h-3zM881 679h1v3h-1z" fill="#00c0ff"/>
<path d="M903 608h3v1h-3zM904 607h1v3h-1z" fill="#00ff00"/>
<path d="M903 680h3v1h-3zM904 679h1v3h-1z" fill="#00c0ff"/>
<path d="M925 608h3v1h-3zM926 607h1v3h-1z" fill="#00ff00"/>
<path d="M925 680h3v1h-3zM926 679h1v3h-1z" fill="#00c0ff"/>
<path d="M947 608h3v1h-3zM948 607h1v3h-1z" fill="#00ff00"/>
<path d="M947 680h3v1h-3zM948 679h1v3h-1z" fill="#00c0ff"/>
<path d="M970 608h3v1h-3zM971 607h1v3h-1z" fill="#00ff00"/>
<path d="M970 680h3v1h-3zM971 679h1v3h-1z" fill="#00c0ff"/>
<path d="M992 608h3v1h-3zM993 607h1v3h-1z" fill="#00ff00"/>
<path d="M992 680h3v1h-3zM993 679h1v3h-1z" fill="#00c0ff"/>
<path d="M1015 608h3v1h-3zM1016 607h1v3h-1z" fill="#00ff00"/>
<path d="M1015 680h3v1h-3zM1016 679h1v3h-1z" fill="#00c0ff"/>
<path d="M1037 608h3v1h-3zM1038 607h1v3h-1z" fill="#00ff00"/>
<path d="M1037 680h3v1h-3zM1038 679h1v3h-1z" fill="#00c0ff"/>
<path d="M1059 608h3v1h-3zM1060 607h1v3h-1z" fill="#00ff00"/>
<path d="M1059 680h3v1h-3zM1060 679h1v3h-1z" fill="#00c0ff"/>
<path d="M1082 608h3v1h-3zM1083 607h1v3h-1z" fill="#00ff00"/>
<path d="M1082 680h3v1h-3zM1083 679h1v3h-1z" fill="#00c0ff"/>
<path d="M1104 608h3v1h-3zM1105 607h1v3h-1z" fill="#00ff00"/>
<path d="M1104 680h3v1h-3zM1105 679h1v3h-1z" fill="#00c0ff"/>
<path d="M1126 608h3v1h-3zM1127 607h1v3h-1z" fill="#00ff00"/>
<path d="M1126 680h3v1h-3zM1127 679h1v3h-1z" fill="#00c0ff"/>
<path d="M1149 608h3v1h-3zM1150 607h1v3h-1z" fill="#00ff00"/>
<path d="M1149 680h3v1h-3zM1150 679h1v3h-1z" fill="#00c0ff"/>
<path d="M1171 608h3v1h-3zM1172 607h1v3h-1z" fill="#00ff00"/>
<path d="M1171 680h3v1h-3zM1172 679h1v3h-1z" fill="#00c0ff"/>
<path d="M1193 608h3v1h-3zM1194 607h1v3h-1z" fill="#00ff00"/>
<path d="M1193 680h3v1h-3zM1194 679h1v3h-1z" fill="#00c0ff"/>
<path d="M1216 608h3v1h-3zM1217 607h1v3h-1z" fill="#00ff00"/>
<path d="M1216 680h3v1h-3zM1217 679h1v3h-1z" fill="#00c0ff"/>
<path d="M1238 608h3v1h-3zM1239 607h1v3h-1z" fill="#00ff00"/>
<path d="M1238 680h3v1h-3zM1239 679h1v3h-1z" fill="#00c0ff"/>
<path d="M1261 608h3v1h-3zM1262 607h1v3h-1z" fill="#00ff00"/>
<path d="M1261 680h3v1h-3zM1262 679h1v3h-1z" fill="#00c0ff"/>
<path d="M1283 608h3v1h-3zM1284 607h1v3h-1z" fill="#00ff00"/>
<path d="M1283 680h3v1h-3zM1284 679h1v3h-1z" fill="#00c0ff"/>
<path d="M1305 608h3v1h-3zM1306 607h1v3h-1z" fill="#00ff00"/>
<path d="M1305 680h3v1h-3zM1306 679h1v3h-1z" fill="#00c0ff"/>
<path d="M1328 608h3v1h-3zM1329 607h1v3h-1z" fill="#00ff00"/>
<path d="M1328 680h3v1h-3zM1329 679h1v3h-1z" fill="#00c0ff"/>
<path d="M1350 608h3v1h-3zM1351 607h1v3h-1z" fill="#00ff00"/>
<path d="M1350 680h3v1h-3zM1351 679h1v3h-1z" fill="#00c0ff"/>
<path d="M1372 608h3v1h-3zM1373 607h1v3h-1z" fill="#00ff00"/>
<path d="M1372 680h3v1h-3zM1373 679h1v3h-1z" fill="#00c0ff"/>
<path d="M1395 608h3v1h-3zM1396 607h1v3h-1z" fill="#00ff00"/>
<path d="M1395 680h3v1h-3zM1396 679h1v3h-1z" fill="#00c0ff"/>
<path d="M1417 608h3v1h-3zM1418 607h1v3h-1z" fill="#00ff00"/>
<path d="M1417 680h3v1h-3zM1418 679h1v3h-1z" fill="#00c0ff"/>
<path d="M1440 608h3v1h-3zM1441 607h1v3h-1z" fill="#00ff00"/>
<path d="M1440 680h3v1h-3zM1441 679h1v3h-1z" fill="#00c0ff"/>
<path d="M1462 608h3v1h-3zM1463 607h1v3h-1z" fill="#00ff00"/>
<path d="M1462 680h3v1h-3zM1463 679h1v3h-1z" fill="#00c0ff"/>
<path d="M1484 608h3v1h-3zM1485 607h1v3h-1z" fill="#00ff00"/>
<path d="M1484 680h3v1h-3zM1485 679h1v3h-1z" fill="#00c0ff"/>
<path d="M1507 608h3v1h-3zM1508 607h1v3h-1z" fill="#00ff00"/>
<path d="M1507 680h3v1h-3zM1508 679h1v3h-1z" fill="#00c0ff"/>
<path d="M1529 608h3v1h-3zM1530 607h1v3h-1z" fill="#00ff00"/>
<path d="M1529 680h3v1h-3zM1530 679h1v3h-1z" fill="#00c0ff"/>
<path d="M1551 608h3v1h-3zM1552 607h1v3h-1z" fill="#00ff00"/>
<path d="M1551 680h3v1h-3zM1552 679h1v3h-1z" fill="#00c0ff"/>
</g>
<path d="M480 818l5 6h-4v6h-2v-6h-4z" fill="#ff0000"/>
<path d="M927.5 772l5 6h-4v6h-2v-6h-4z" fill="#ff0000"/>
<path d="M1285 721l5 6h-4v6h-2v-6h-4z" fill="#ff0000"/>
<path d="M1263.5 727l5 -6h-4v-6h-2v6h-4z" fill="#00d800"/>
<polyline fill="none" stroke="#ffff00" stroke-width="1.25" points="10,834.5 33,836 55,837 77,836 99,835 111.4,834.2 134,833.4 157,832.3 176,831 213.7,828.1 251.7,825.3 289.6,822.4 327.5,819.4 365.4,817 384.4,816 420,815.2 435,814.8 457.7,813.9 480.3,813.1 525.4,811.9 570.6,808.6 615.8,804.8 638.3,802.6 660.9,798.6 682.7,790.5 703,783.5 726.1,780.5 748.7,778 771.3,776.7 793.1,775.8 892.5,773 927.5,767.5 1030,756.2 1130,744.5 1190,736.6 1214.9,732.9 1232.3,732.3 1263.4,731 1284.5,727.3 1308.2,725.8 1321.8,724.8 1345.5,724.2 1366.6,722.3 1384,718.9 1400,713.6 1419.2,707.5 1441.8,700 1464.4,688 1486.3,679 1509.5,671.4 1530.6,665.4 1552.5,660.3"/>
<polyline fill="none" stroke="#ff0000" stroke-width="1.1" points="10.5,831 33,833 55,833.5 77,834.2 99,835.7 121,835 144,834.6 176,832.7 213.7,830.2 251.7,827.5 289.6,825.1 327.5,822.2 365.4,819.4 384.4,818.3 420,817 457.7,815.1 525.4,813.1 593.2,810.6 615.8,808.6 660.9,805.1 703,796.8 748.7,787.5 793.1,779.5 892.5,775 927.5,771.2 1030,760.5 1130,748.8 1190,743.5 1214.9,739.1 1232.3,737 1263.4,734.8 1284.5,732.3 1308.2,729.2 1321.8,728.3 1345.5,726.7 1366.6,725.2 1384,723.6 1400,722.1 1419.2,718 1441.8,713.5 1464.4,704.5 1486.3,696.4 1509.5,688 1530.6,679.8 1552.5,672.3"/>
<g shape-rendering="crispEdges">
<line x1="10.5" x2="10.5" y1="823" y2="833" stroke="#ff0000"/>
<rect x="3.0" y="828" width="15" height="2" fill="#ff0000"/>
<line x1="32.5" x2="32.5" y1="829" y2="839" stroke="#ff0000"/>
<rect x="25.0" y="833" width="15" height="2" fill="#ff0000"/>
<line x1="55.5" x2="55.5" y1="821" y2="823" stroke="#ff0000"/>
<line x1="55.5" x2="55.5" y1="835" y2="836" stroke="#ff0000"/>
<rect x="48.5" y="823.5" width="14" height="11" fill="#000" stroke="#ff0000"/>
<line x1="77.5" x2="77.5" y1="803" y2="823" stroke="#ff0000"/>
<rect x="70.0" y="814" width="15" height="7" fill="#ff0000"/>
<line x1="99.5" x2="99.5" y1="817" y2="826" stroke="#ff0000"/>
<rect x="92.0" y="820" width="15" height="4" fill="#ff0000"/>
<line x1="122.5" x2="122.5" y1="813" y2="816" stroke="#ff0000"/>
<line x1="122.5" x2="122.5" y1="824" y2="824" stroke="#ff0000"/>
<rect x="115.5" y="816.5" width="14" height="7" fill="#000" stroke="#ff0000"/>
<line x1="144.5" x2="144.5" y1="811" y2="836" stroke="#ff0000"/>
<rect x="137.0" y="816" width="15" height="19" fill="#ff0000"/>
<line x1="166.5" x2="166.5" y1="824" y2="824" stroke="#ff0000"/>
<line x1="166.5" x2="166.5" y1="836" y2="837" stroke="#ff0000"/>
<rect x="159.5" y="824.5" width="14" height="11" fill="#000" stroke="#ff0000"/>
<line x1="189.5" x2="189.5" y1="815" y2="830" stroke="#ff0000"/>
<rect x="182.0" y="815" width="15" height="8" fill="#ff0000"/>
<line x1="211.5" x2="211.5" y1="798" y2="812" stroke="#ff0000"/>
<line x1="211.5" x2="211.5" y1="823" y2="825" stroke="#ff0000"/>
<rect x="204.5" y="812.5" width="14" height="10" fill="#000" stroke="#ff0000"/>
<line x1="234.5" x2="234.5" y1="813" y2="823" stroke="#ff0000"/>
<rect x="227.0" y="814" width="15" height="2" fill="#ff0000"/>
<line x1="256.5" x2="256.5" y1="813" y2="821" stroke="#ff0000"/>
<rect x="249.0" y="814" width="15" height="4" fill="#ff0000"/>
<line x1="278.5" x2="278.5" y1="805" y2="813" stroke="#ff0000"/>
<line x1="278.5" x2="278.5" y1="819" y2="819" stroke="#ff0000"/>
<rect x="271.5" y="813.5" width="14" height="5" fill="#000" stroke="#ff0000"/>
<line x1="301.5" x2="301.5" y1="790" y2="805" stroke="#ff0000"/>
<line x1="301.5" x2="301.5" y1="812" y2="812" stroke="#ff0000"/>
<rect x="294.5" y="805.5" width="14" height="6" fill="#000" stroke="#ff0000"/>
<line x1="323.5" x2="323.5" y1="801" y2="803" stroke="#ff0000"/>
<line x1="323.5" x2="323.5" y1="807" y2="810" stroke="#ff0000"/>
<rect x="316.5" y="803.5" width="14" height="3" fill="#000" stroke="#ff0000"/>
<line x1="345.5" x2="345.5" y1="798" y2="811" stroke="#ff0000"/>
<rect x="338.0" y="805" width="15" height="2" fill="#ff0000"/>
<line x1="368.5" x2="368.5" y1="801" y2="805" stroke="#ff0000"/>
<line x1="368.5" x2="368.5" y1="808" y2="815" stroke="#ff0000"/>
<rect x="361.5" y="805.5" width="14" height="2" fill="#000" stroke="#ff0000"/>
<line x1="390.5" x2="390.5" y1="805" y2="816" stroke="#ff0000"/>
<rect x="383.0" y="805" width="15" height="7" fill="#ff0000"/>
<line x1="413.5" x2="413.5" y1="810" y2="812" stroke="#ff0000"/>
<line x1="413.5" x2="413.5" y1="816" y2="816" stroke="#ff0000"/>
<rect x="406.5" y="812.5" width="14" height="3" fill="#000" stroke="#ff0000"/>
<line x1="435.5" x2="435.5" y1="806" y2="818" stroke="#ff0000"/>
<rect x="428.0" y="814" width="15" height="2" fill="#ff0000"/>
<line x1="457.5" x2="457.5" y1="803" y2="804" stroke="#00ffff"/>
<line x1="457.5" x2="457.5" y1="818" y2="824" stroke="#00ffff"/>
<rect x="450.5" y="804.5" width="14" height="13" fill="#000" stroke="#00ffff"/>
<line x1="480.5" x2="480.5" y1="802" y2="808" stroke="#ff0000"/>
<rect x="473.0" y="805" width="15" height="2" fill="#ff0000"/>
<line x1="502.5" x2="502.5" y1="802" y2="807" stroke="#ff0000"/>
<rect x="495.0" y="804" width="15" height="2" fill="#ff0000"/>
<line x1="524.5" x2="524.5" y1="801" y2="804" stroke="#ff0000"/>
<line x1="524.5" x2="524.5" y1="809" y2="812" stroke="#ff0000"/>
<rect x="517.5" y="804.5" width="14" height="4" fill="#000" stroke="#ff0000"/>
<line x1="547.5" x2="547.5" y1="791" y2="796" stroke="#ff0000"/>
<line x1="547.5" x2="547.5" y1="804" y2="804" stroke="#ff0000"/>
<rect x="540.5" y="796.5" width="14" height="7" fill="#000" stroke="#ff0000"/>
<line x1="569.5" x2="569.5" y1="792" y2="806" stroke="#ff0000"/>
<rect x="562.0" y="794" width="15" height="7" fill="#ff0000"/>
<line x1="592.5" x2="592.5" y1="796" y2="805" stroke="#ff0000"/>
<rect x="585.0" y="801" width="15" height="4" fill="#ff0000"/>
<line x1="614.5" x2="614.5" y1="769" y2="775" stroke="#ff0000"/>
<line x1="614.5" x2="614.5" y1="804" y2="806" stroke="#ff0000"/>
<rect x="607.5" y="775.5" width="14" height="28" fill="#000" stroke="#ff0000"/>
<line x1="636.5" x2="636.5" y1="775" y2="791" stroke="#ff0000"/>
<rect x="629.0" y="777" width="15" height="13" fill="#ff0000"/>
<line x1="659.5" x2="659.5" y1="752" y2="752" stroke="#ff0000"/>
<line x1="659.5" x2="659.5" y1="788" y2="790" stroke="#ff0000"/>
<rect x="652.5" y="752.5" width="14" height="35" fill="#000" stroke="#ff0000"/>
<line x1="681.5" x2="681.5" y1="711" y2="711" stroke="#ff0000"/>
<line x1="681.5" x2="681.5" y1="723" y2="734" stroke="#ff0000"/>
<rect x="674.5" y="711.5" width="14" height="11" fill="#000" stroke="#ff0000"/>
<line x1="703.5" x2="703.5" y1="666" y2="743" stroke="#ff0000"/>
<rect x="696.0" y="681" width="15" height="56" fill="#ff0000"/>
<line x1="726.5" x2="726.5" y1="736" y2="767" stroke="#ff0000"/>
<rect x="719.0" y="747" width="15" height="17" fill="#ff0000"/>
<line x1="748.5" x2="748.5" y1="759" y2="766" stroke="#ff0000"/>
<line x1="748.5" x2="748.5" y1="769" y2="776" stroke="#ff0000"/>
<rect x="741.5" y="766.5" width="14" height="2" fill="#000" stroke="#ff0000"/>
<line x1="770.5" x2="770.5" y1="761" y2="782" stroke="#ff0000"/>
<rect x="763.0" y="764" width="15" height="15" fill="#ff0000"/>
<line x1="793.5" x2="793.5" y1="770" y2="775" stroke="#00ffff"/>
<line x1="793.5" x2="793.5" y1="782" y2="783" stroke="#00ffff"/>
<rect x="786.5" y="775.5" width="14" height="6" fill="#000" stroke="#00ffff"/>
<line x1="815.5" x2="815.5" y1="776" y2="789" stroke="#00ffff"/>
<rect x="808.0" y="781" width="15" height="2" fill="#00ffff"/>
<line x1="838.5" x2="838.5" y1="761" y2="768" stroke="#00ffff"/>
<line x1="838.5" x2="838.5" y1="782" y2="787" stroke="#00ffff"/>
<rect x="831.5" y="768.5" width="14" height="13" fill="#000" stroke="#00ffff"/>
<line x1="860.5" x2="860.5" y1="768" y2="780" stroke="#00ffff"/>
<rect x="853.0" y="769" width="15" height="8" fill="#00ffff"/>
<line x1="882.5" x2="882.5" y1="763" y2="768" stroke="#00ffff"/>
<line x1="882.5" x2="882.5" y1="777" y2="786" stroke="#00ffff"/>
<rect x="875.5" y="768.5" width="14" height="8" fill="#000" stroke="#00ffff"/>
<line x1="905.5" x2="905.5" y1="753" y2="756" stroke="#00ffff"/>
<line x1="905.5" x2="905.5" y1="775" y2="776" stroke="#00ffff"/>
<rect x="898.5" y="756.5" width="14" height="18" fill="#000" stroke="#00ffff"/>
<line x1="927.5" x2="927.5" y1="717" y2="728" stroke="#ff0000"/>
<line x1="927.5" x2="927.5" y1="757" y2="763" stroke="#ff0000"/>
<rect x="920.5" y="728.5" width="14" height="28" fill="#000" stroke="#ff0000"/>
<line x1="949.5" x2="949.5" y1="733" y2="754" stroke="#ff0000"/>
<rect x="942.0" y="742" width="15" height="3" fill="#ff0000"/>
<line x1="972.5" x2="972.5" y1="742" y2="758" stroke="#ff0000"/>
<rect x="965.0" y="749" width="15" height="2" fill="#ff0000"/>
<line x1="994.5" x2="994.5" y1="733" y2="741" stroke="#ff0000"/>
<line x1="994.5" x2="994.5" y1="748" y2="748" stroke="#ff0000"/>
<rect x="987.5" y="741.5" width="14" height="6" fill="#000" stroke="#ff0000"/>
<line x1="1017.5" x2="1017.5" y1="733" y2="743" stroke="#ff0000"/>
<line x1="1017.5" x2="1017.5" y1="747" y2="753" stroke="#ff0000"/>
<rect x="1010.5" y="743.5" width="14" height="3" fill="#000" stroke="#ff0000"/>
<line x1="1039.5" x2="1039.5" y1="730" y2="733" stroke="#ff0000"/>
<line x1="1039.5" x2="1039.5" y1="743" y2="747" stroke="#ff0000"/>
<rect x="1032.5" y="733.5" width="14" height="9" fill="#000" stroke="#ff0000"/>
<line x1="1061.5" x2="1061.5" y1="718" y2="730" stroke="#ff0000"/>
<line x1="1061.5" x2="1061.5" y1="737" y2="739" stroke="#ff0000"/>
<rect x="1054.5" y="730.5" width="14" height="6" fill="#000" stroke="#ff0000"/>
<line x1="1084.5" x2="1084.5" y1="709" y2="720" stroke="#ff0000"/>
<line x1="1084.5" x2="1084.5" y1="734" y2="734" stroke="#ff0000"/>
<rect x="1077.5" y="720.5" width="14" height="13" fill="#000" stroke="#ff0000"/>
<line x1="1106.5" x2="1106.5" y1="719" y2="742" stroke="#ff0000"/>
<rect x="1099.0" y="722" width="15" height="20" fill="#ff0000"/>
<line x1="1128.5" x2="1128.5" y1="705" y2="712" stroke="#ff0000"/>
<line x1="1128.5" x2="1128.5" y1="745" y2="748" stroke="#ff0000"/>
<rect x="1121.5" y="712.5" width="14" height="32" fill="#000" stroke="#ff0000"/>
<line x1="1151.5" x2="1151.5" y1="699" y2="707" stroke="#ff0000"/>
<line x1="1151.5" x2="1151.5" y1="716" y2="720" stroke="#ff0000"/>
<rect x="1144.5" y="707.5" width="14" height="8" fill="#000" stroke="#ff0000"/>
<line x1="1173.5" x2="1173.5" y1="703" y2="716" stroke="#ff0000"/>
<rect x="1166.0" y="708" width="15" height="5" fill="#ff0000"/>
<line x1="1195.5" x2="1195.5" y1="707" y2="720" stroke="#ff0000"/>
<rect x="1188.0" y="715" width="15" height="4" fill="#ff0000"/>
<line x1="1218.5" x2="1218.5" y1="711" y2="724" stroke="#ff0000"/>
<rect x="1211.0" y="717" width="15" height="2" fill="#ff0000"/>
<line x1="1240.5" x2="1240.5" y1="722" y2="751" stroke="#ff0000"/>
<rect x="1233.0" y="723" width="15" height="22" fill="#ff0000"/>
<line x1="1263.5" x2="1263.5" y1="717" y2="735" stroke="#00ffff"/>
<line x1="1263.5" x2="1263.5" y1="744" y2="744" stroke="#00ffff"/>
<rect x="1256.5" y="735.5" width="14" height="8" fill="#000" stroke="#00ffff"/>
<line x1="1285.5" x2="1285.5" y1="692" y2="692" stroke="#ff0000"/>
<line x1="1285.5" x2="1285.5" y1="697" y2="711" stroke="#ff0000"/>
<rect x="1278.5" y="692.5" width="14" height="4" fill="#000" stroke="#ff0000"/>
<line x1="1307.5" x2="1307.5" y1="658" y2="727" stroke="#ff0000"/>
<rect x="1300.0" y="672" width="15" height="52" fill="#ff0000"/>
<line x1="1330.5" x2="1330.5" y1="711" y2="717" stroke="#ff0000"/>
<line x1="1330.5" x2="1330.5" y1="740" y2="749" stroke="#ff0000"/>
<rect x="1323.5" y="717.5" width="14" height="22" fill="#000" stroke="#ff0000"/>
<line x1="1352.5" x2="1352.5" y1="713" y2="733" stroke="#ff0000"/>
<rect x="1345.0" y="721" width="15" height="8" fill="#ff0000"/>
<line x1="1374.5" x2="1374.5" y1="685" y2="685" stroke="#ff0000"/>
<line x1="1374.5" x2="1374.5" y1="729" y2="737" stroke="#ff0000"/>
<rect x="1367.5" y="685.5" width="14" height="43" fill="#000" stroke="#ff0000"/>
<line x1="1397.5" x2="1397.5" y1="637" y2="637" stroke="#ff0000"/>
<line x1="1397.5" x2="1397.5" y1="678" y2="692" stroke="#ff0000"/>
<rect x="1390.5" y="637.5" width="14" height="40" fill="#000" stroke="#ff0000"/>
<line x1="1419.5" x2="1419.5" y1="591" y2="654" stroke="#ff0000"/>
<rect x="1412.0" y="637" width="15" height="17" fill="#ff0000"/>
<line x1="1442.5" x2="1442.5" y1="604" y2="604" stroke="#ff0000"/>
<line x1="1442.5" x2="1442.5" y1="647" y2="671" stroke="#ff0000"/>
<rect x="1435.5" y="604.5" width="14" height="42" fill="#000" stroke="#ff0000"/>
<line x1="1464.5" x2="1464.5" y1="564" y2="594" stroke="#ff0000"/>
<line x1="1464.5" x2="1464.5" y1="605" y2="616" stroke="#ff0000"/>
<rect x="1457.5" y="594.5" width="14" height="10" fill="#000" stroke="#ff0000"/>
<line x1="1486.5" x2="1486.5" y1="602" y2="620" stroke="#ff0000"/>
<rect x="1479.0" y="613" width="15" height="7" fill="#ff0000"/>
<line x1="1509.5" x2="1509.5" y1="582" y2="604" stroke="#ff0000"/>
<line x1="1509.5" x2="1509.5" y1="625" y2="638" stroke="#ff0000"/>
<rect x="1502.5" y="604.5" width="14" height="20" fill="#000" stroke="#ff0000"/>
<line x1="1531.5" x2="1531.5" y1="611" y2="644" stroke="#ff0000"/>
<rect x="1524.0" y="613" width="15" height="21" fill="#ff0000"/>
<line x1="1553.5" x2="1553.5" y1="620" y2="631" stroke="#ff0000"/>
<line x1="1553.5" x2="1553.5" y1="638" y2="645" stroke="#ff0000"/>
<rect x="1546.5" y="631.5" width="14" height="6" fill="#000" stroke="#ff0000"/>
</g>
<polyline fill="none" stroke="#ff00ff" stroke-width="1.05" points="10.5,829.5 32.5,834.5 55.5,823.5 77.5,820.5 99.5,823.5 122.5,816.5 144.5,834.5 166.5,824.5 189.5,822.5 211.5,812.5 234.5,814.5 256.5,817.5 278.5,813.5 301.5,805.5 323.5,803.5 345.5,806.5 368.5,805.5 390.5,811.5 413.5,812.5 435.5,814.5 457.5,804.5 480.5,805.5 502.5,805.5 524.5,804.5 547.5,796.5 569.5,800.5 592.5,804.5 614.5,775.5 636.5,789.5 659.5,752.5 681.5,711.5 703.5,736.5 726.5,763.5 748.5,766.5 770.5,778.5 793.5,775.5 815.5,781.5 838.5,768.5 860.5,776.5 882.5,768.5 905.5,756.5 927.5,728.5 949.5,744.5 972.5,750.5 994.5,741.5 1017.5,743.5 1039.5,733.5 1061.5,730.5 1084.5,720.5 1106.5,741.5 1128.5,712.5 1151.5,707.5 1173.5,712.5 1195.5,718.5 1218.5,717.5 1240.5,744.5 1263.5,735.5 1285.5,692.5 1307.5,723.5 1330.5,717.5 1352.5,728.5 1374.5,685.5 1397.5,637.5 1419.5,653.5 1442.5,604.5 1464.5,594.5 1486.5,619.5 1509.5,604.5 1531.5,633.5 1553.5,631.5"/>
<line x1="703.5" x2="703.5" y1="670" y2="682" stroke="#ff0000"/>
<g transform="translate(703,664)"><circle r="7.1" fill="url(#gs)"/><path d="M-5 -3.6L-3 -5.6M5 -3.6L3 -5.6" stroke="#2a3ca0" stroke-width="1.1" fill="none"/><rect x="-3.2" y="-3" width="1.9" height="1.9" fill="#08081c"/><rect x="1.1" y="-3" width="1.9" height="1.9" fill="#08081c"/><path d="M-4.2 2.6Q0 -0.2 4.2 2.6" stroke="#08081c" stroke-width="1.2" fill="none"/></g>
<g transform="translate(1306.7,656)"><circle r="7.1" fill="url(#gs)"/><path d="M-5 -3.6L-3 -5.6M5 -3.6L3 -5.6" stroke="#2a3ca0" stroke-width="1.1" fill="none"/><rect x="-3.2" y="-3" width="1.9" height="1.9" fill="#08081c"/><rect x="1.1" y="-3" width="1.9" height="1.9" fill="#08081c"/><path d="M-4.2 2.6Q0 -0.2 4.2 2.6" stroke="#08081c" stroke-width="1.2" fill="none"/></g>
<g transform="translate(1419.2,587)"><circle r="7.1" fill="url(#gs)"/><path d="M-5 -3.6L-3 -5.6M5 -3.6L3 -5.6" stroke="#2a3ca0" stroke-width="1.1" fill="none"/><rect x="-3.2" y="-3" width="1.9" height="1.9" fill="#08081c"/><rect x="1.1" y="-3" width="1.9" height="1.9" fill="#08081c"/><path d="M-4.2 2.6Q0 -0.2 4.2 2.6" stroke="#08081c" stroke-width="1.2" fill="none"/></g>
<g transform="translate(838,802)"><circle r="7.1" fill="url(#gy)"/><rect x="-4" y="-2.8" width="2" height="1.8" fill="#2a2000"/><rect x="2" y="-2.8" width="2" height="1.8" fill="#2a2000"/><path d="M-3 2.3Q0 6.2 3.2 2.3" stroke="#2a2000" stroke-width="1.2" fill="none"/></g>
<g transform="translate(1195,709)"><path d="M-6.8 0.4L-1.9 -6.6Q1 -7.3 4.2 -6.8Q6.9 -6 6.9 -3.5L6.9 1.8Q6.6 3.2 5.6 3.2L4.6 2.6L3.6 3.6L2.4 2.9L1.2 4L0 3.3L-1.2 3.6L-1.3 7.9L-4.1 7.9L-4.1 -1.2L-5.8 1.2Z" fill="#ffc864" stroke="#96561a" stroke-width="0.7" stroke-linejoin="round"/><path d="M-6.3 0L-1.7 -6.2" stroke="#fff" stroke-width="1.1" fill="none"/><path d="M-3.2 1.5L-3.1 7.4" stroke="#fff6e4" stroke-width="1.2" fill="none"/></g>
<g transform="translate(1486.5,604)"><path d="M-6.8 0.4L-1.9 -6.6Q1 -7.3 4.2 -6.8Q6.9 -6 6.9 -3.5L6.9 1.8Q6.6 3.2 5.6 3.2L4.6 2.6L3.6 3.6L2.4 2.9L1.2 4L0 3.3L-1.2 3.6L-1.3 7.9L-4.1 7.9L-4.1 -1.2L-5.8 1.2Z" fill="#ffc864" stroke="#96561a" stroke-width="0.7" stroke-linejoin="round"/><path d="M-6.3 0L-1.7 -6.2" stroke="#fff" stroke-width="1.1" fill="none"/><path d="M-3.2 1.5L-3.1 7.4" stroke="#fff6e4" stroke-width="1.2" fill="none"/></g>
<rect x="456" y="802" width="2" height="2" fill="#00e000"/>
<rect x="792.6" y="768" width="1.6" height="7" fill="#00e000"/>
</svg></body></html>
